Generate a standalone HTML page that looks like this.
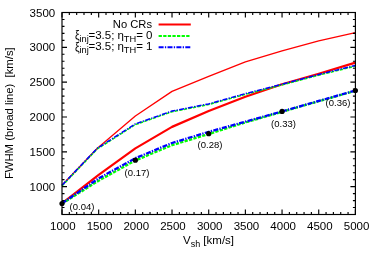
<!DOCTYPE html>
<html><head><meta charset="utf-8"><style>
html,body{margin:0;padding:0;background:#fff;}
svg{display:block;opacity:0.999;will-change:transform;font-family:"Liberation Sans",sans-serif;}
</style></head><body>
<svg width="374" height="262" viewBox="0 0 374 262">
<rect width="374" height="262" fill="#fff"/>
<g fill="none" stroke-linejoin="round">
<polyline points="62.00,185.24 97.35,148.19 135.35,115.94 172.02,91.35 208.70,76.30 245.38,61.96 282.05,50.81 318.72,40.92 355.40,32.70" stroke="#f00" stroke-width="1.3"/>
<polyline points="62.00,203.36 98.67,174.80 135.35,148.33 172.02,126.87 208.70,111.06 245.38,96.78 282.05,84.24 318.72,73.80 355.40,62.65" stroke="#f00" stroke-width="2.2"/>
<polyline points="62.00,185.24 97.35,148.19 135.35,123.95 172.02,111.06 208.70,103.89 245.38,93.65 282.05,84.24 318.72,74.49 355.40,65.44" stroke="#0f0" stroke-width="1.5" stroke-dasharray="3.3,1.3" transform="translate(0,0.7)"/>
<polyline points="62.00,185.24 97.35,148.19 135.35,123.95 172.02,111.06 208.70,103.89 245.38,93.65 282.05,84.24 318.72,74.49 355.40,65.44" stroke="#00f" stroke-width="1.5" stroke-dasharray="5,1.3,1.3,1.3"/>
<polyline points="62.00,203.66 98.67,180.67 135.35,160.47 172.02,145.22 208.70,134.00 245.38,122.46 282.05,111.81 318.72,101.26 355.40,90.81" stroke="#0f0" stroke-width="2.3" stroke-dasharray="3.3,1.3"/>
<polyline points="62.00,203.36 98.67,178.37 135.35,158.17 172.02,143.02 208.70,131.80 245.38,121.66 282.05,111.41 318.72,100.96 355.40,90.51" stroke="#00f" stroke-width="2.3" stroke-dasharray="5,1.3,1.3,1.3"/>
</g>
<g fill="#000"><circle cx="62.00" cy="203.56" r="2.6"/><circle cx="135.35" cy="160.17" r="2.6"/><circle cx="208.70" cy="133.70" r="2.6"/><circle cx="282.05" cy="111.41" r="2.6"/><circle cx="355.40" cy="90.51" r="2.6"/></g>
<g stroke="#000" stroke-width="1.15" fill="none">
<rect x="62.0" y="12.5" width="293.4" height="202.0"/>
<path d="M62.00 214.50V209.50M62.00 12.50V17.50"/><path d="M69.33 214.50V212.00M69.33 12.50V15.00"/><path d="M76.67 214.50V212.00M76.67 12.50V15.00"/><path d="M84.00 214.50V212.00M84.00 12.50V15.00"/><path d="M91.34 214.50V212.00M91.34 12.50V15.00"/><path d="M98.67 214.50V209.50M98.67 12.50V17.50"/><path d="M106.01 214.50V212.00M106.01 12.50V15.00"/><path d="M113.34 214.50V212.00M113.34 12.50V15.00"/><path d="M120.68 214.50V212.00M120.68 12.50V15.00"/><path d="M128.01 214.50V212.00M128.01 12.50V15.00"/><path d="M135.35 214.50V209.50M135.35 12.50V17.50"/><path d="M142.69 214.50V212.00M142.69 12.50V15.00"/><path d="M150.02 214.50V212.00M150.02 12.50V15.00"/><path d="M157.35 214.50V212.00M157.35 12.50V15.00"/><path d="M164.69 214.50V212.00M164.69 12.50V15.00"/><path d="M172.02 214.50V209.50M172.02 12.50V17.50"/><path d="M179.36 214.50V212.00M179.36 12.50V15.00"/><path d="M186.69 214.50V212.00M186.69 12.50V15.00"/><path d="M194.03 214.50V212.00M194.03 12.50V15.00"/><path d="M201.36 214.50V212.00M201.36 12.50V15.00"/><path d="M208.70 214.50V209.50M208.70 12.50V17.50"/><path d="M216.03 214.50V212.00M216.03 12.50V15.00"/><path d="M223.37 214.50V212.00M223.37 12.50V15.00"/><path d="M230.70 214.50V212.00M230.70 12.50V15.00"/><path d="M238.04 214.50V212.00M238.04 12.50V15.00"/><path d="M245.38 214.50V209.50M245.38 12.50V17.50"/><path d="M252.71 214.50V212.00M252.71 12.50V15.00"/><path d="M260.04 214.50V212.00M260.04 12.50V15.00"/><path d="M267.38 214.50V212.00M267.38 12.50V15.00"/><path d="M274.71 214.50V212.00M274.71 12.50V15.00"/><path d="M282.05 214.50V209.50M282.05 12.50V17.50"/><path d="M289.38 214.50V212.00M289.38 12.50V15.00"/><path d="M296.72 214.50V212.00M296.72 12.50V15.00"/><path d="M304.05 214.50V212.00M304.05 12.50V15.00"/><path d="M311.39 214.50V212.00M311.39 12.50V15.00"/><path d="M318.72 214.50V209.50M318.72 12.50V17.50"/><path d="M326.06 214.50V212.00M326.06 12.50V15.00"/><path d="M333.39 214.50V212.00M333.39 12.50V15.00"/><path d="M340.73 214.50V212.00M340.73 12.50V15.00"/><path d="M348.06 214.50V212.00M348.06 12.50V15.00"/><path d="M355.40 214.50V209.50M355.40 12.50V17.50"/><path d="M62.00 214.50H64.50M355.40 214.50H352.90"/><path d="M62.00 207.53H64.50M355.40 207.53H352.90"/><path d="M62.00 200.57H64.50M355.40 200.57H352.90"/><path d="M62.00 193.60H64.50M355.40 193.60H352.90"/><path d="M62.00 186.64H67.00M355.40 186.64H350.40"/><path d="M62.00 179.67H64.50M355.40 179.67H352.90"/><path d="M62.00 172.71H64.50M355.40 172.71H352.90"/><path d="M62.00 165.74H64.50M355.40 165.74H352.90"/><path d="M62.00 158.78H64.50M355.40 158.78H352.90"/><path d="M62.00 151.81H67.00M355.40 151.81H350.40"/><path d="M62.00 144.84H64.50M355.40 144.84H352.90"/><path d="M62.00 137.88H64.50M355.40 137.88H352.90"/><path d="M62.00 130.91H64.50M355.40 130.91H352.90"/><path d="M62.00 123.95H64.50M355.40 123.95H352.90"/><path d="M62.00 116.98H67.00M355.40 116.98H350.40"/><path d="M62.00 110.02H64.50M355.40 110.02H352.90"/><path d="M62.00 103.05H64.50M355.40 103.05H352.90"/><path d="M62.00 96.09H64.50M355.40 96.09H352.90"/><path d="M62.00 89.12H64.50M355.40 89.12H352.90"/><path d="M62.00 82.16H67.00M355.40 82.16H350.40"/><path d="M62.00 75.19H64.50M355.40 75.19H352.90"/><path d="M62.00 68.22H64.50M355.40 68.22H352.90"/><path d="M62.00 61.26H64.50M355.40 61.26H352.90"/><path d="M62.00 54.29H64.50M355.40 54.29H352.90"/><path d="M62.00 47.33H67.00M355.40 47.33H350.40"/><path d="M62.00 40.36H64.50M355.40 40.36H352.90"/><path d="M62.00 33.40H64.50M355.40 33.40H352.90"/><path d="M62.00 26.43H64.50M355.40 26.43H352.90"/><path d="M62.00 19.47H64.50M355.40 19.47H352.90"/><path d="M62.00 12.50H67.00M355.40 12.50H350.40"/>
</g>
<g font-size="11.5" fill="#000"><text x="62.80" y="230.3" text-anchor="middle">1000</text><text x="99.52" y="230.3" text-anchor="middle">1500</text><text x="136.25" y="230.3" text-anchor="middle">2000</text><text x="172.97" y="230.3" text-anchor="middle">2500</text><text x="209.70" y="230.3" text-anchor="middle">3000</text><text x="246.43" y="230.3" text-anchor="middle">3500</text><text x="283.15" y="230.3" text-anchor="middle">4000</text><text x="319.88" y="230.3" text-anchor="middle">4500</text><text x="356.60" y="230.3" text-anchor="middle">5000</text><text x="55.2" y="190.64" text-anchor="end">1000</text><text x="55.2" y="155.81" text-anchor="end">1500</text><text x="55.2" y="120.98" text-anchor="end">2000</text><text x="55.2" y="86.16" text-anchor="end">2500</text><text x="55.2" y="51.33" text-anchor="end">3000</text><text x="55.2" y="16.50" text-anchor="end">3500</text></g>
<g font-size="9.5" fill="#000">
<text x="82" y="209.5" text-anchor="middle">(0.04)</text>
<text x="137" y="175.7" text-anchor="middle">(0.17)</text>
<text x="210" y="147.8" text-anchor="middle">(0.28)</text>
<text x="283.5" y="126.8" text-anchor="middle">(0.33)</text>
<text x="338" y="106" text-anchor="middle">(0.36)</text>
</g>
<g font-size="11.5" fill="#000">
<text x="152" y="28" text-anchor="end" font-size="11.2">No CRs</text>
<text transform="translate(74.9,39.3) scale(0.88,1.06)" font-size="11.8">ξ</text><text y="39"><tspan x="79.4" dy="3" font-size="9.3">inj</tspan><tspan x="88.5" dy="-3">=3.5;</tspan><tspan x="117.5">η</tspan><tspan x="123.8" dy="3" font-size="9.3">TH</tspan><tspan x="136.2" dy="-3">= 0</tspan></text>
<text transform="translate(74.9,50.5) scale(0.88,1.06)" font-size="11.8">ξ</text><text y="50.2"><tspan x="79.4" dy="3" font-size="9.3">inj</tspan><tspan x="88.5" dy="-3">=3.5;</tspan><tspan x="117.5">η</tspan><tspan x="123.8" dy="3" font-size="9.3">TH</tspan><tspan x="136.2" dy="-3">= 1</tspan></text>
<text x="208.5" y="244.3" text-anchor="middle">V<tspan font-size="9" dy="2.5">sh</tspan><tspan dy="-2.5"> [km/s]</tspan></text>
<text transform="translate(12.7,113.2) rotate(-90)" text-anchor="middle" font-size="11.3">FWHM (broad line)&#160;&#160;[km/s]</text>
</g>
<g fill="none" stroke-width="2">
<path d="M158.6 24.6H190.8" stroke="#f00"/>
<path d="M158.6 35.9H190.8" stroke="#0f0" stroke-dasharray="3.3,1.3"/>
<path d="M158.6 47.3H190.8" stroke="#00f" stroke-dasharray="5,1.3,1.3,1.3"/>
</g>
</svg>
</body></html>
